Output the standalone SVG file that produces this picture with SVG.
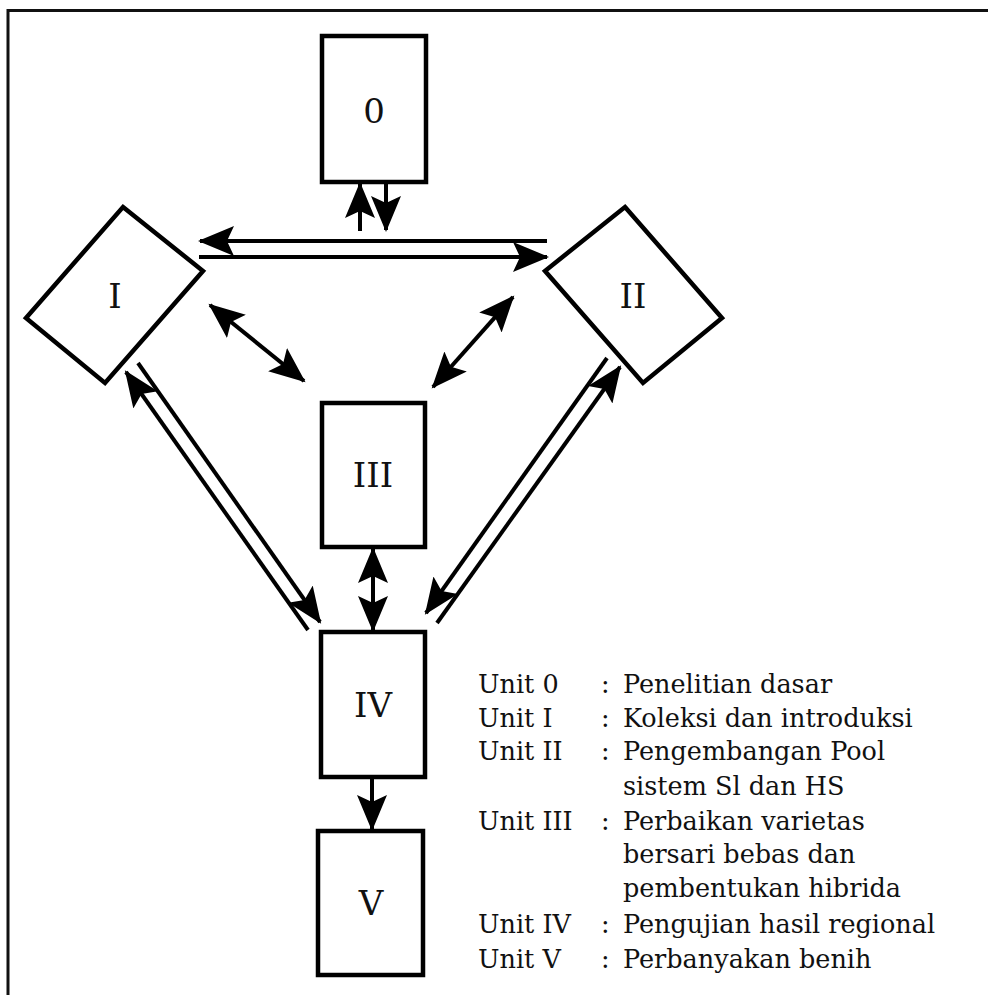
<svg xmlns="http://www.w3.org/2000/svg" width="988" height="995" viewBox="0 0 988 995">
<defs>
<style>
.box{fill:#fff;stroke:#000;stroke-width:4.5}
.lbl{font-family:"DejaVu Serif",serif;font-size:34px;text-anchor:middle;fill:#111}
.leg{font-family:"DejaVu Serif",serif;font-size:25.5px;fill:#111}
.ln{stroke:#000;stroke-width:4;fill:none}
.a{marker-end:url(#ah)}
.aa{marker-start:url(#ah);marker-end:url(#ah)}
</style>
<marker id="ah" markerUnits="userSpaceOnUse" markerWidth="38" markerHeight="32" refX="34" refY="15" orient="auto-start-reverse">
<path d="M0,0 L36,15 L0,30 L7,15 z" fill="#000"/>
</marker>
</defs>
<rect width="988" height="995" fill="#fff"/>
<path d="M8,1000 V10.5 H992" fill="none" stroke="#111" stroke-width="3"/>

<g id="n0"><rect class="box" x="322" y="36" width="104" height="146"/><text class="lbl" x="374" y="123">0</text></g>
<g id="n1"><polygon class="box" points="123,207 203,271 105,383 26,318"/><text class="lbl" x="115" y="308">I</text></g>
<g id="n2"><polygon class="box" points="625,207 722,318 643,383 545,271"/><text class="lbl" x="633" y="308">II</text></g>
<g id="n3"><rect class="box" x="322" y="403" width="103" height="144"/><text class="lbl" x="373" y="487">III</text></g>
<g id="n4"><rect class="box" x="321" y="632" width="104" height="145"/><text class="lbl" x="373" y="717">IV</text></g>
<g id="n5"><rect class="box" x="318" y="831" width="105" height="144"/><text class="lbl" x="371" y="915">V</text></g>

<g id="connectors">
<line class="ln a" x1="360" y1="231" x2="360" y2="184"/>
<line class="ln a" x1="386" y1="184" x2="386" y2="230"/>
<line class="ln a" x1="547" y1="241" x2="200" y2="241"/>
<line class="ln a" x1="199" y1="257" x2="547" y2="257"/>
<line class="ln aa" x1="210" y1="305" x2="304" y2="381"/>
<line class="ln aa" x1="513" y1="297" x2="433" y2="387"/>
<line class="ln a" x1="138" y1="363" x2="320" y2="622"/>
<line class="ln a" x1="308" y1="630" x2="126" y2="372"/>
<line class="ln a" x1="607" y1="358" x2="426" y2="613"/>
<line class="ln a" x1="437" y1="623" x2="620" y2="367"/>
<line class="ln aa" x1="373" y1="549" x2="373" y2="630"/>
<line class="ln a" x1="372" y1="779" x2="372" y2="829"/>
</g>

<g id="legend" class="leg">
<text x="478" y="693">Unit 0</text><text x="601" y="693">:</text><text x="623" y="693">Penelitian dasar</text>
<text x="478" y="727">Unit I</text><text x="601" y="727">:</text><text x="623" y="727">Koleksi dan introduksi</text>
<text x="478" y="760">Unit II</text><text x="601" y="760">:</text><text x="623" y="760">Pengembangan Pool</text>
<text x="623" y="795">sistem Sl dan HS</text>
<text x="478" y="830">Unit III</text><text x="601" y="830">:</text><text x="623" y="830">Perbaikan varietas</text>
<text x="623" y="863">bersari bebas dan</text>
<text x="623" y="897">pembentukan hibrida</text>
<text x="478" y="933">Unit IV</text><text x="601" y="933">:</text><text x="623" y="933">Pengujian hasil regional</text>
<text x="478" y="968">Unit V</text><text x="601" y="968">:</text><text x="623" y="968">Perbanyakan benih</text>
</g>
</svg>
